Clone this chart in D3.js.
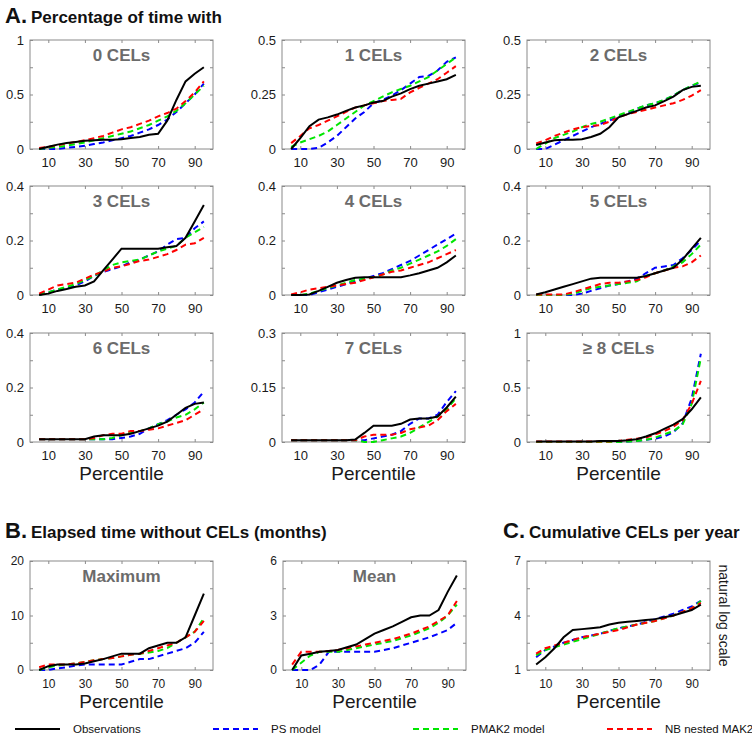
<!DOCTYPE html>
<html><head><meta charset="utf-8">
<script src="https://cdn.jsdelivr.net/npm/d3@7"></script>
<style>body{margin:0;background:#fff}svg{font-family:"Liberation Sans",Arial,sans-serif}</style>
</head><body><svg id="c" width="752" height="746"></svg>
<script>
// ---- data ----
const percentiles = [5,10,15,20,25,30,35,40,45,50,55,60,65,70,75,80,85,90,95];
const xTickValues = [10,30,50,70,90];
const seriesNames = ["Observations","PS model","PMAK2 model","NB nested MAK2"];

const obs0  = [0,0.02,0.04,0.055,0.065,0.075,0.08,0.085,0.085,0.09,0.1,0.11,0.13,0.14,0.26,0.45,0.62,0.69,0.75];
const ps0   = [0,0,0,0.01,0.02,0.03,0.045,0.06,0.08,0.1,0.12,0.15,0.18,0.22,0.27,0.34,0.42,0.5,0.6];
const pmak0 = [0,0.01,0.02,0.03,0.045,0.06,0.08,0.1,0.12,0.14,0.16,0.19,0.22,0.26,0.3,0.35,0.42,0.5,0.58];
const nb0   = [0.01,0.02,0.035,0.05,0.065,0.08,0.1,0.12,0.15,0.18,0.2,0.23,0.26,0.3,0.33,0.37,0.44,0.52,0.62];

const obs1  = [0,0.05,0.105,0.135,0.145,0.158,0.175,0.19,0.2,0.213,0.22,0.24,0.255,0.275,0.29,0.3,0.31,0.32,0.34];
const ps1   = [0,0,0,0.005,0.03,0.06,0.1,0.14,0.17,0.21,0.225,0.245,0.27,0.3,0.33,0.335,0.36,0.4,0.42];
const pmak1 = [0.01,0.03,0.045,0.06,0.08,0.11,0.14,0.17,0.2,0.22,0.24,0.26,0.275,0.29,0.31,0.33,0.36,0.39,0.42];
const nb1   = [0.027,0.06,0.095,0.11,0.13,0.15,0.17,0.19,0.2,0.21,0.22,0.225,0.23,0.26,0.28,0.3,0.32,0.35,0.38];

const obs2  = [0.018,0.03,0.04,0.042,0.042,0.045,0.055,0.07,0.1,0.145,0.16,0.175,0.19,0.2,0.22,0.24,0.27,0.285,0.29];
const ps2   = [0,0,0.02,0.04,0.06,0.08,0.1,0.115,0.13,0.15,0.165,0.185,0.2,0.21,0.225,0.245,0.27,0.29,0.305];
const pmak2 = [0,0.025,0.05,0.065,0.08,0.1,0.115,0.125,0.14,0.155,0.17,0.185,0.2,0.21,0.225,0.245,0.27,0.29,0.31];
const nb2   = [0.025,0.04,0.06,0.075,0.09,0.1,0.105,0.11,0.125,0.145,0.16,0.17,0.18,0.19,0.2,0.21,0.225,0.245,0.27];

const obs3  = [0,0.005,0.015,0.022,0.03,0.035,0.05,0.09,0.13,0.17,0.17,0.17,0.17,0.17,0.175,0.18,0.21,0.27,0.33];
const ps3   = [0,0.01,0.02,0.025,0.035,0.05,0.07,0.085,0.095,0.105,0.12,0.13,0.145,0.16,0.185,0.205,0.21,0.245,0.27];
const pmak3 = [0,0.01,0.02,0.03,0.04,0.055,0.07,0.09,0.11,0.12,0.125,0.13,0.145,0.16,0.17,0.18,0.21,0.23,0.25];
const nb3   = [0.005,0.02,0.035,0.04,0.045,0.06,0.075,0.085,0.1,0.105,0.115,0.125,0.13,0.14,0.15,0.165,0.185,0.19,0.21];

const obs4  = [0,0,0.002,0.015,0.03,0.045,0.055,0.063,0.065,0.065,0.065,0.065,0.065,0.072,0.08,0.09,0.1,0.12,0.145];
const ps4   = [0,0,0,0.01,0.02,0.03,0.04,0.05,0.06,0.07,0.08,0.095,0.11,0.125,0.145,0.165,0.185,0.205,0.225];
const pmak4 = [0,0,0.005,0.015,0.025,0.035,0.045,0.055,0.06,0.065,0.075,0.09,0.1,0.115,0.13,0.145,0.16,0.18,0.205];
const nb4   = [0.002,0.01,0.02,0.025,0.03,0.035,0.04,0.045,0.055,0.065,0.075,0.085,0.09,0.1,0.11,0.12,0.135,0.15,0.165];

const obs5  = [0.002,0.01,0.02,0.03,0.04,0.05,0.06,0.063,0.063,0.063,0.063,0.063,0.07,0.08,0.09,0.1,0.13,0.17,0.21];
const ps5   = [0,0,0,0,0,0.005,0.015,0.025,0.035,0.04,0.05,0.06,0.08,0.1,0.105,0.11,0.135,0.165,0.2];
const pmak5 = [0,0,0,0,0.005,0.015,0.025,0.03,0.035,0.04,0.045,0.05,0.07,0.08,0.09,0.105,0.12,0.15,0.185];
const nb5   = [0.002,0.002,0.002,0.002,0.01,0.02,0.03,0.04,0.045,0.045,0.05,0.055,0.065,0.08,0.09,0.1,0.105,0.12,0.145];

const obs6  = [0.01,0.01,0.01,0.01,0.01,0.01,0.02,0.025,0.025,0.025,0.03,0.04,0.05,0.06,0.075,0.1,0.125,0.14,0.145];
const ps6   = [0.01,0.01,0.01,0.01,0.01,0.01,0.01,0.01,0.01,0.015,0.02,0.03,0.05,0.065,0.08,0.1,0.12,0.145,0.185];
const pmak6 = [0.01,0.01,0.01,0.01,0.01,0.01,0.01,0.01,0.015,0.025,0.035,0.04,0.05,0.065,0.075,0.09,0.1,0.12,0.145];
const nb6   = [0.01,0.01,0.01,0.01,0.01,0.01,0.015,0.025,0.03,0.03,0.04,0.04,0.045,0.05,0.06,0.07,0.08,0.1,0.12];

const obs7  = [0.005,0.005,0.005,0.005,0.005,0.005,0.005,0.007,0.025,0.045,0.045,0.045,0.05,0.062,0.065,0.065,0.07,0.095,0.125];
const ps7   = [0.005,0.005,0.005,0.005,0.005,0.005,0.005,0.005,0.005,0.01,0.015,0.02,0.03,0.05,0.065,0.065,0.075,0.11,0.14];
const pmak7 = [0.005,0.005,0.005,0.005,0.005,0.005,0.005,0.005,0,0,0.005,0.01,0.015,0.025,0.04,0.055,0.07,0.09,0.12];
const nb7   = [0.005,0.005,0.005,0.005,0.005,0.005,0.005,0.005,0.015,0.02,0.02,0.02,0.025,0.035,0.04,0.045,0.06,0.085,0.105];

const obs8  = [0.005,0.005,0.005,0.005,0.005,0.005,0.005,0.01,0.01,0.01,0.015,0.025,0.05,0.08,0.12,0.16,0.21,0.3,0.41];
const ps8   = [0,0,0,0,0,0,0,0,0,0,0.005,0.01,0.02,0.03,0.05,0.09,0.17,0.4,0.81];
const pmak8 = [0,0,0,0,0,0,0,0,0,0,0.005,0.01,0.02,0.04,0.07,0.1,0.16,0.35,0.77];
const nb8   = [0.005,0.005,0.005,0.005,0.005,0.005,0.005,0.005,0.005,0.01,0.02,0.03,0.04,0.07,0.1,0.14,0.2,0.35,0.56];

const obsMax  = [0,0.7,1,1,1,1.2,1.6,2,2.5,3,3,3,4,4.5,5,5,6,10,14];
const psMax   = [0,0,0.3,0.5,0.8,1,1,1,1,1,1.5,2,2,2.5,3,3.5,4,5,7];
const pmakMax = [0,0.5,0.8,1,1.2,1.5,1.8,2,2.2,2.5,2.8,3,3.2,3.5,4,5,6,7,9.5];
const nbMax   = [0.5,1,1,1,1.2,1.5,1.8,2,2.2,2.5,2.8,3,3.5,4,4.5,5,6,7,9];

const obsMean  = [0,0.8,0.9,1,1.05,1.1,1.25,1.4,1.7,2,2.2,2.4,2.65,2.9,3,3,3.3,4.3,5.2];
const psMean   = [0,0,0,0.3,1,1,1,1,1,1,1.1,1.2,1.35,1.5,1.65,1.8,2,2.2,2.6];
const pmakMean = [0,0.4,0.8,1,1,1,1.1,1.2,1.3,1.4,1.5,1.6,1.75,1.9,2.1,2.3,2.6,3,3.6];
const nbMean   = [0.3,1,1,1,1.05,1.1,1.2,1.3,1.4,1.5,1.6,1.7,1.85,2,2.2,2.4,2.7,3,3.8];

const obsCum  = [1.3,1.7,2.2,2.8,3.2,3.25,3.3,3.35,3.5,3.6,3.65,3.7,3.75,3.8,3.9,4,4.15,4.3,4.6];
const psCum   = [1.7,2.1,2.3,2.5,2.65,2.8,2.9,3,3.15,3.3,3.4,3.5,3.65,3.8,3.95,4.1,4.3,4.5,4.8];
const pmakCum = [1.8,2.1,2.25,2.4,2.55,2.7,2.85,3,3.15,3.3,3.4,3.5,3.6,3.7,3.85,4,4.2,4.4,4.8];
const nbCum   = [1.9,2.2,2.35,2.5,2.65,2.8,2.9,3,3.1,3.2,3.35,3.5,3.6,3.7,3.85,4,4.2,4.4,4.7];

// ---- drawing ----
const svg = d3.select("#c");
const W = 183, H = 109;
const colors = ["#000000","#0000ff","#00e600","#ff0000"];
const x = d3.scaleLinear().domain([0,100]).range([0,W]);

function panel(p){
  const g = svg.append("g").attr("transform",`translate(${p.left},${p.top})`);
  const y = d3.scaleLinear().domain(p.yDomain).range([H,0]);
  const fmt = d => p.yLabels.includes(d) ? String(d) : "";
  const axCol = "#8a8a8a";
  const ax = [
    g.append("g").attr("transform",`translate(0,${H})`).call(d3.axisBottom(x).tickValues(xTickValues).tickSizeInner(-3).tickSizeOuter(0).tickPadding(9)),
    g.append("g").call(d3.axisTop(x).tickValues(xTickValues).tickSizeInner(-3).tickSizeOuter(0).tickFormat("")),
    g.append("g").call(d3.axisLeft(y).tickValues(p.yTicks).tickSizeInner(-3).tickSizeOuter(0).tickPadding(6).tickFormat(fmt)),
    g.append("g").attr("transform",`translate(${W},0)`).call(d3.axisRight(y).tickValues(p.yTicks).tickSizeInner(-3).tickSizeOuter(0).tickFormat(""))
  ];
  ax.forEach(a=>{
    a.select(".domain").remove();
    a.selectAll("line").attr("stroke",axCol);
    a.selectAll("text").attr("fill","#1a1a1a").style("font-size", (p.fs||13)+"px").style("font-family","'Liberation Sans',Arial,sans-serif");
  });
  g.append("rect").attr("width",W).attr("height",H).attr("fill","none").attr("stroke",axCol).attr("stroke-width",1);
  if(p.title) g.append("text").attr("x",W/2).attr("y",21).attr("text-anchor","middle")
     .attr("fill","#6b6b6b").style("font-weight","bold").style("font-size","17px").text(p.title);
  const line = d3.line().x((d,i)=>x(percentiles[i])).y(d=>y(d));
  const order = [1,2,3,0];
  order.forEach(k=>{
    g.append("path").datum(p.series[k]).attr("d",line).attr("fill","none")
      .attr("stroke",colors[k]).attr("stroke-width",2)
      .attr("stroke-dasharray", k===0 ? null : "6,4");
  });
  if(p.xlabel) g.append("text").attr("x",W/2).attr("y",H+38).attr("text-anchor","middle")
     .style("font-size","19px").attr("fill","#1a1a1a").text("Percentile");
  return g;
}

const cols = [30,282,527];
const rows = [40,186,333];
const panelsA = [
  {title:"0 CELs", yDomain:[0,1], yTicks:[0,0.25,0.5,0.75,1], yLabels:[0,0.5,1], series:[obs0,ps0,pmak0,nb0]},
  {title:"1 CELs", yDomain:[0,0.5], yTicks:[0,0.125,0.25,0.375,0.5], yLabels:[0,0.25,0.5], series:[obs1,ps1,pmak1,nb1]},
  {title:"2 CELs", yDomain:[0,0.5], yTicks:[0,0.125,0.25,0.375,0.5], yLabels:[0,0.25,0.5], series:[obs2,ps2,pmak2,nb2]},
  {title:"3 CELs", yDomain:[0,0.4], yTicks:[0,0.1,0.2,0.3,0.4], yLabels:[0,0.2,0.4], series:[obs3,ps3,pmak3,nb3]},
  {title:"4 CELs", yDomain:[0,0.4], yTicks:[0,0.1,0.2,0.3,0.4], yLabels:[0,0.2,0.4], series:[obs4,ps4,pmak4,nb4]},
  {title:"5 CELs", yDomain:[0,0.4], yTicks:[0,0.1,0.2,0.3,0.4], yLabels:[0,0.2,0.4], series:[obs5,ps5,pmak5,nb5]},
  {title:"6 CELs", yDomain:[0,0.4], yTicks:[0,0.1,0.2,0.3,0.4], yLabels:[0,0.2,0.4], series:[obs6,ps6,pmak6,nb6], xlabel:true},
  {title:"7 CELs", yDomain:[0,0.3], yTicks:[0,0.075,0.15,0.225,0.3], yLabels:[0,0.15,0.3], series:[obs7,ps7,pmak7,nb7], xlabel:true},
  {title:"\u2265 8 CELs", yDomain:[0,1], yTicks:[0,0.25,0.5,0.75,1], yLabels:[0,0.5,1], series:[obs8,ps8,pmak8,nb8], xlabel:true}
];
panelsA.forEach((p,i)=>panel(Object.assign({left:cols[i%3], top:rows[Math.floor(i/3)]}, p)));

const bottomTop = 561;
panel({left:30, top:bottomTop, title:"Maximum", yDomain:[0,20], yTicks:[0,5,10,15,20], yLabels:[0,10,20], fs:12, series:[obsMax,psMax,pmakMax,nbMax], xlabel:true});
panel({left:283, top:bottomTop, title:"Mean", yDomain:[0,6], yTicks:[0,1.5,3,4.5,6], yLabels:[0,3,6], fs:12, series:[obsMean,psMean,pmakMean,nbMean], xlabel:true});
panel({left:527, top:bottomTop, title:null, yDomain:[1,7], yTicks:[1,2.5,4,5.5,7], yLabels:[1,4,7], fs:12, series:[obsCum,psCum,pmakCum,nbCum], xlabel:true});

svg.append("text").attr("transform",`translate(${527+W+9},${bottomTop+H/2}) rotate(90)`)
  .attr("text-anchor","middle").style("font-size","14px").attr("fill","#1a1a1a").text("natural log scale");

function section(xp, yp, letter, rest){
  const t = svg.append("text").attr("x",xp).attr("y",yp).attr("fill","#111").style("font-weight","bold");
  t.append("tspan").style("font-size","22px").text(letter);
  t.append("tspan").style("font-size","17px").attr("dx",4).text(rest);
}
section(5,23,"A.","Percentage of time with");
section(5,538,"B.","Elapsed time without CELs (months)");
section(503,538,"C.","Cumulative CELs per year");

// legend
const legY = 729;
const legX = [15,213,413,607];
seriesNames.forEach((n,k)=>{
  svg.append("line").attr("x1",legX[k]).attr("x2",legX[k]+45).attr("y1",legY).attr("y2",legY)
    .attr("stroke",colors[k]).attr("stroke-width",2).attr("stroke-dasharray",k===0?null:"6,4");
  svg.append("text").attr("x",legX[k]+58).attr("y",legY+4).style("font-size","11.5px").attr("fill","#111").text(n);
});
</script></body></html>
